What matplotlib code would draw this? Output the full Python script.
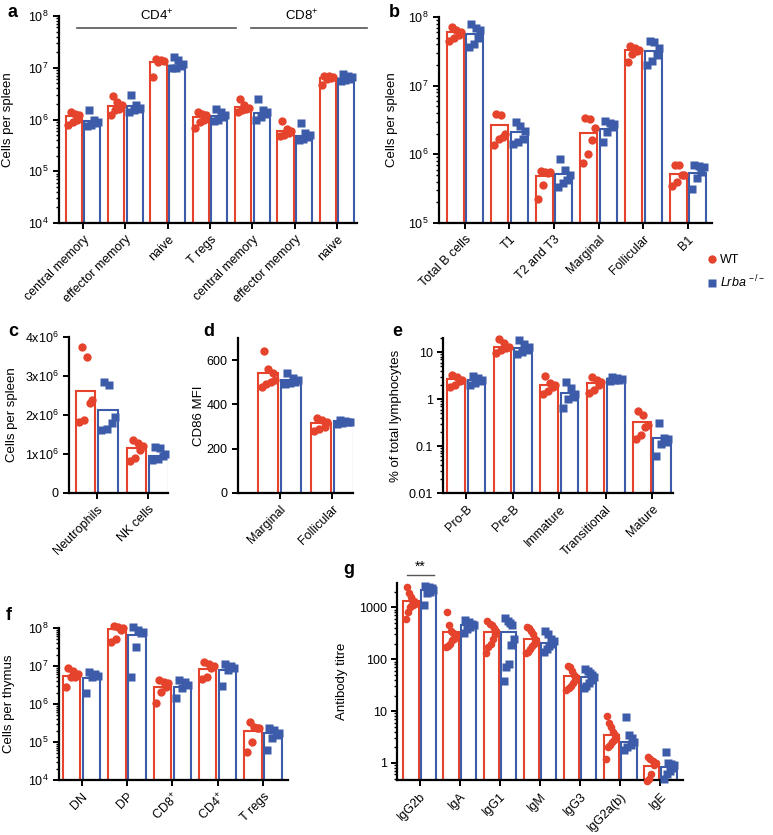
import numpy as np
import matplotlib
matplotlib.use('Agg')
import matplotlib.pyplot as plt
from matplotlib.lines import Line2D
from matplotlib.ticker import FixedLocator, FixedFormatter, LogLocator, NullFormatter

plt.rcParams['font.family'] = ['Liberation Sans', 'DejaVu Sans']
plt.rcParams['mathtext.fontset'] = 'custom'
plt.rcParams['mathtext.rm'] = 'Liberation Sans'
plt.rcParams['mathtext.it'] = 'Liberation Sans:italic'

RED = '#E5432C'
BLUE = '#3C5BA8'

# ---- panel a: T cell subsets in spleen
a_cats = ['central memory', 'effector memory', 'naive', 'T regs',
          'central memory', 'effector memory', 'naive']
a_wt_bar = [1.15e6, 1.85e6, 1.27e7, 1.1e6, 1.75e6, 6.0e5, 6.3e6]
a_ko_bar = [0.95e6, 1.8e6, 1.07e7, 1.17e6, 1.35e6, 4.7e5, 6.1e6]
a_wt_pts = [[1.4e6, 1.3e6, 1.2e6, 1.0e6, 0.9e6, 0.8e6],
            [2.8e6, 2.2e6, 1.9e6, 1.6e6, 1.5e6, 1.2e6],
            [1.4e7, 1.45e7, 1.35e7, 1.3e7, 6.5e6],
            [1.4e6, 1.3e6, 1.2e6, 1.0e6, 0.9e6, 0.7e6],
            [2.5e6, 1.9e6, 1.7e6, 1.6e6, 1.5e6, 1.4e6],
            [9.5e5, 6.5e5, 6.0e5, 5.5e5, 5.0e5, 4.8e5],
            [7.0e6, 6.8e6, 6.5e6, 6.2e6, 6.0e6, 4.6e6]]
a_ko_pts = [[1.5e6, 1.0e6, 0.9e6, 0.85e6, 0.8e6, 0.75e6],
            [3.0e6, 1.9e6, 1.7e6, 1.6e6, 1.5e6, 1.4e6],
            [1.6e7, 1.4e7, 1.2e7, 1.1e7, 1.0e7, 1.0e7],
            [1.6e6, 1.4e6, 1.2e6, 1.1e6, 1.0e6, 0.95e6],
            [2.5e6, 1.5e6, 1.4e6, 1.3e6, 1.1e6, 1.0e6],
            [8.5e5, 5.5e5, 5.0e5, 4.5e5, 4.2e5, 4.0e5],
            [7.5e6, 7.0e6, 6.5e6, 6.0e6, 5.8e6, 5.5e6]]

# ---- panel b: B cell subsets in spleen
b_cats = ['Total B cells', 'T1', 'T2 and T3', 'Marginal', 'Follicular', 'B1']
b_wt_bar = [6.0e7, 2.65e6, 4.8e5, 2.05e6, 3.3e7, 5.2e5]
b_ko_bar = [5.7e7, 2.1e6, 5.1e5, 2.3e6, 3.2e7, 5.4e5]
b_wt_pts = [[7.2e7, 6.5e7, 6.0e7, 5.5e7, 5.0e7, 4.5e7],
            [3.9e6, 3.7e6, 2.0e6, 1.8e6, 1.7e6, 1.35e6],
            [5.7e5, 5.6e5, 5.5e5, 5.3e5, 3.6e5, 2.2e5],
            [3.3e6, 3.4e6, 2.4e6, 1.6e6, 1.0e6, 7.6e5],
            [3.8e7, 3.5e7, 3.3e7, 3.2e7, 2.9e7, 2.2e7],
            [7.0e5, 6.9e5, 5.0e5, 5.0e5, 3.9e5, 3.5e5]]
b_ko_pts = [[8.0e7, 7.0e7, 6.5e7, 5.0e7, 4.0e7, 3.7e7],
            [3.0e6, 2.6e6, 2.2e6, 1.7e6, 1.5e6, 1.4e6],
            [8.5e5, 6.0e5, 5.0e5, 4.2e5, 3.8e5, 3.3e5],
            [3.1e6, 2.9e6, 2.8e6, 2.5e6, 2.1e6, 1.5e6],
            [4.5e7, 4.3e7, 3.5e7, 2.8e7, 2.3e7, 2.0e7],
            [7.0e5, 6.8e5, 6.5e5, 5.5e5, 4.5e5, 3.1e5]]

# ---- panel c: myeloid / NK
c_cats = ['Neutrophils', 'NK cells']
c_wt_bar = [2.62e6, 1.15e6]
c_ko_bar = [2.12e6, 0.94e6]
c_wt_pts = [[3.75e6, 3.48e6, 2.38e6, 2.3e6, 1.88e6, 1.82e6],
            [1.35e6, 1.28e6, 1.2e6, 1.1e6, 0.9e6, 0.82e6]]
c_ko_pts = [[2.85e6, 2.78e6, 1.95e6, 1.8e6, 1.65e6, 1.62e6],
            [1.18e6, 1.15e6, 1.0e6, 0.95e6, 0.88e6, 0.85e6]]

# ---- panel d: CD86 MFI
d_cats = ['Marginal', 'Follicular']
d_wt_bar = [540, 316]
d_ko_bar = [510, 325]
d_wt_pts = [[640, 560, 540, 510, 500, 490, 480],
            [340, 330, 320, 300, 290, 280]]
d_ko_pts = [[540, 520, 510, 500, 495, 490],
            [330, 325, 320, 315, 310, 320]]

# ---- panel e: bone marrow B cells
e_cats = ['Pro-B', 'Pre-B', 'Immature', 'Transitional', 'Mature']
e_wt_bar = [2.7, 13.0, 1.95, 2.2, 0.32]
e_ko_bar = [2.6, 12.0, 1.35, 2.65, 0.145]
e_wt_pts = [[3.2, 2.9, 2.6, 2.4, 2.0, 1.8],
            [19, 16, 13, 12, 11, 9.5],
            [3.1, 2.2, 2.0, 1.8, 1.5, 1.3],
            [2.9, 2.5, 2.3, 2.0, 1.6, 1.35],
            [0.55, 0.45, 0.28, 0.26, 0.17, 0.14]]
e_ko_pts = [[3.1, 2.8, 2.6, 2.4, 2.2, 2.0],
            [18, 15, 13, 11, 10, 9],
            [2.3, 1.7, 1.3, 1.1, 1.0, 0.65],
            [3.0, 2.8, 2.7, 2.5, 2.4, 2.6],
            [0.31, 0.15, 0.14, 0.12, 0.11, 0.06]]

# ---- panel f: thymus
f_cats = ['DN', 'DP', 'CD8$^{+}$', 'CD4$^{+}$', 'T regs']
f_wt_bar = [5.4e6, 9.6e7, 2.8e6, 8.5e6, 1.9e5]
f_ko_bar = [4.7e6, 6.4e7, 2.8e6, 7.7e6, 1.7e5]
f_wt_pts = [[9e6, 7.5e6, 6e6, 5e6, 5e6, 2.8e6],
            [1.1e8, 1.05e8, 1e8, 9e7, 5e7, 4.2e7],
            [4.3e6, 3.8e6, 3.5e6, 2.8e6, 2.1e6, 1.05e6],
            [1.3e7, 1.15e7, 1.0e7, 9e6, 5e6, 4.5e6],
            [3.3e5, 2.5e5, 2.3e5, 2.3e5, 1e5, 5.3e4]]
f_ko_pts = [[7e6, 6e6, 5.5e6, 5e6, 2e6],
            [1.05e8, 9e7, 8e7, 7.5e7, 3.2e7, 5e6],
            [4.3e6, 3.8e6, 3.2e6, 2.6e6, 1.4e6],
            [1.1e7, 1.0e7, 9e6, 8e6, 3e6],
            [2.4e5, 2.1e5, 1.7e5, 1.5e5, 1.3e5, 6.2e4]]

# ---- panel g: serum antibody titres
g_cats = ['IgG2b', 'IgA', 'IgG1', 'IgM', 'IgG3', 'IgG2a(b)', 'IgE']
g_wt_bar = [1300, 335, 335, 250, 47, 3.4, 0.89]
g_ko_bar = [2190, 450, 330, 210, 45, 2.5, 0.84]
g_wt_pts = [[2500, 1900, 1600, 1400, 1300, 1200, 1150, 1100, 1000, 1050, 800, 600],
            [800, 450, 350, 320, 300, 280, 250, 230, 200, 180, 170],
            [550, 480, 450, 400, 350, 300, 250, 200, 170, 130],
            [420, 400, 350, 300, 250, 220, 200, 180, 160, 140, 130],
            [75, 70, 60, 50, 45, 40, 35, 30, 28, 25],
            [8, 6, 5, 4, 3.5, 3, 2.8, 2.5, 2.2, 2.0, 1.2],
            [1.3, 1.2, 1.1, 1.0, 1.0, 0.9, 0.6, 0.5, 0.45]]
g_ko_pts = [[2600, 2500, 2400, 2200, 2000, 1900, 1100],
            [580, 520, 480, 450, 420, 380, 320],
            [620, 550, 500, 450, 250, 190, 80, 70, 38],
            [350, 300, 250, 220, 200, 180, 160, 140],
            [65, 60, 55, 50, 45, 40, 35, 30, 28],
            [7.8, 3.5, 3.0, 2.5, 2.2, 2.0, 1.8],
            [1.65, 1.0, 0.95, 0.9, 0.8, 0.7, 0.6, 0.5]]

W, H = 773, 835
fig = plt.figure(figsize=(W / 100, H / 100), dpi=100)


def box(l, r, t, b):
    return [l / W, 1 - b / H, (r - l) / W, (b - t) / H]


def spread(vals, half=0.13):
    vals = np.asarray(vals)
    n = len(vals)
    pos = np.linspace(-half, half, n)
    alt = np.concatenate([pos[::2], pos[1::2][::-1]])
    offs = np.zeros(n)
    offs[np.argsort(vals)] = alt
    return offs


def panel(rect, cats, wt_bar, ko_bar, wt_pts, ko_pts, ylim, xlim,
          log=True, ms=6, half=0.13):
    ax = fig.add_axes(box(*rect))
    x = np.arange(len(cats))
    if log:
        ax.set_yscale('log')
    lo = ylim[0]
    ax.bar(x - 0.22, np.array(wt_bar) - lo, bottom=lo, width=0.38,
           facecolor='white', edgecolor=RED, linewidth=1.5, zorder=2)
    ax.bar(x + 0.22, np.array(ko_bar) - lo, bottom=lo, width=0.38,
           facecolor='white', edgecolor=BLUE, linewidth=1.5, zorder=2)
    for i in range(len(cats)):
        ax.plot(x[i] - 0.22 + spread(wt_pts[i], half), wt_pts[i], 'o',
                color=RED, ms=ms, mec='none', zorder=3, clip_on=False)
        ax.plot(x[i] + 0.22 + spread(ko_pts[i], half), ko_pts[i], 's',
                color=BLUE, ms=ms * 0.95, mec='none', zorder=3, clip_on=False)
    ax.set_ylim(*ylim)
    ax.set_xlim(*xlim)
    ax.set_xticks(x)
    ax.set_xticklabels(cats, rotation=45, ha='right', rotation_mode='anchor',
                       fontsize=9)
    for s in ['top', 'right']:
        ax.spines[s].set_visible(False)
    for s in ['left', 'bottom']:
        ax.spines[s].set_linewidth(1.6)
    ax.tick_params(axis='both', which='major', length=4, width=1.4,
                   labelsize=9, colors='black')
    ax.tick_params(axis='y', which='minor', length=2.5, width=1.0)
    ax.tick_params(axis='x', which='minor', length=0)
    return ax


def log_minor(ax):
    ax.yaxis.set_minor_locator(LogLocator(base=10, subs=np.arange(2, 10)))
    ax.yaxis.set_minor_formatter(NullFormatter())


# a
ax = panel((59, 357, 16, 223), a_cats, a_wt_bar, a_ko_bar, a_wt_pts, a_ko_pts,
           (1e4, 1e8), (-0.57, 6.47))
ax.yaxis.set_major_locator(FixedLocator([1e4, 1e5, 1e6, 1e7, 1e8]))
log_minor(ax)
ax.set_ylabel('Cells per spleen', fontsize=9.5)
ax.yaxis.set_label_coords(-0.15, 0.5)
ax.plot([0.06, 0.594], [0.942, 0.942], color='#555555', lw=1.2,
        transform=ax.transAxes, clip_on=False)
ax.plot([0.644, 1.034], [0.942, 0.942], color='#555555', lw=1.2,
        transform=ax.transAxes, clip_on=False)
ax.text(0.327, 0.965, 'CD4$^{+}$', transform=ax.transAxes, ha='center',
        va='bottom', fontsize=9.5)
ax.text(0.815, 0.965, 'CD8$^{+}$', transform=ax.transAxes, ha='center',
        va='bottom', fontsize=9.5)

# b
ax = panel((439, 712, 17, 223), b_cats, b_wt_bar, b_ko_bar, b_wt_pts, b_ko_pts,
           (1e5, 1e8), (-0.58, 5.54))
ax.yaxis.set_major_locator(FixedLocator([1e5, 1e6, 1e7, 1e8]))
log_minor(ax)
ax.set_ylabel('Cells per spleen', fontsize=9.5)
ax.yaxis.set_label_coords(-0.15, 0.5)

# c
ax = panel((69, 168, 337, 493), c_cats, c_wt_bar, c_ko_bar, c_wt_pts, c_ko_pts,
           (0, 4e6), (-0.55, 1.4), log=False)
ax.set_yticks([0, 1e6, 2e6, 3e6, 4e6])
ax.set_yticklabels(['0', '1x10$^{6}$', '2x10$^{6}$', '3x10$^{6}$', '4x10$^{6}$'])
ax.set_ylabel('Cells per spleen', fontsize=9.5)
ax.yaxis.set_label_coords(-0.52, 0.5)

# d
ax = panel((238, 353, 338, 493), d_cats, d_wt_bar, d_ko_bar, d_wt_pts, d_ko_pts,
           (0, 700), (-0.8, 1.4), log=False)
ax.set_yticks([0, 200, 400, 600])
ax.set_ylabel('CD86 MFI', fontsize=9.5)
ax.yaxis.set_label_coords(-0.29, 0.5)

# e
ax = panel((443, 673, 338, 493), e_cats, e_wt_bar, e_ko_bar, e_wt_pts, e_ko_pts,
           (0.01, 20), (-0.5, 4.45))
ax.yaxis.set_major_locator(FixedLocator([0.01, 0.1, 1, 10]))
ax.yaxis.set_major_formatter(FixedFormatter(['0.01', '0.1', '1', '10']))
log_minor(ax)
ax.set_ylabel('% of total lymphocytes', fontsize=9.5)
ax.yaxis.set_label_coords(-0.18, 0.5)

# f
ax = panel((59, 288, 628, 780), f_cats, f_wt_bar, f_ko_bar, f_wt_pts, f_ko_pts,
           (1e4, 1e8), (-0.5, 4.55))
ax.yaxis.set_major_locator(FixedLocator([1e4, 1e5, 1e6, 1e7, 1e8]))
log_minor(ax)
ax.set_ylabel('Cells per thymus', fontsize=9.5)
ax.yaxis.set_label_coords(-0.19, 0.5)

# g
ax = panel((397, 683, 583, 780), g_cats, g_wt_bar, g_ko_bar, g_wt_pts, g_ko_pts,
           (0.47, 2950), (-0.57, 6.57), ms=5.5, half=0.12)
ax.yaxis.set_major_locator(FixedLocator([1, 10, 100, 1000]))
ax.yaxis.set_major_formatter(FixedFormatter(['1', '10', '100', '1000']))
log_minor(ax)
ax.set_ylabel('Antibody titre', fontsize=9.5)
ax.yaxis.set_label_coords(-0.17, 0.5)
ax.plot([-0.32, 0.35], [4300, 4300], color='#555555', lw=1.0, clip_on=False)
ax.text(0.0, 4400, '**', ha='center', va='bottom', fontsize=10)

# panel letters
for lab, px, py in [('a', 8, 4), ('b', 389, 4), ('c', 8, 323), ('d', 203, 323),
                    ('e', 392, 323), ('f', 6, 607), ('g', 343, 561)]:
    fig.text(px / W, 1 - py / H, lab, fontsize=13, fontweight='bold',
             ha='left', va='top')

# legend
handles = [Line2D([], [], marker='o', ls='none', color=RED, ms=6, mec='none'),
           Line2D([], [], marker='s', ls='none', color=BLUE, ms=6, mec='none')]
fig.legend(handles, ['WT', '$\\mathit{Lrba}^{\\,-/-}$'], loc='center left',
           bbox_to_anchor=(706 / W, 1 - 272 / H), frameon=False, fontsize=9,
           handletextpad=0.1, handlelength=1.0, labelspacing=0.6,
           borderaxespad=0, borderpad=0)

fig.savefig('out.png', dpi=100)
